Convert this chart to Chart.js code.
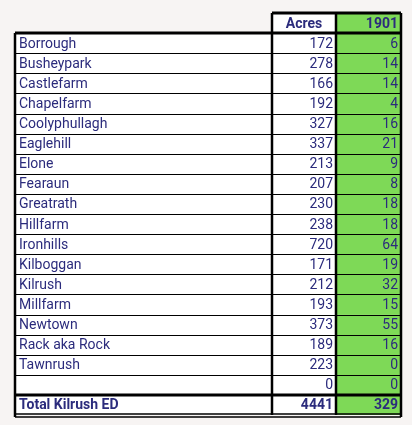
<!DOCTYPE html>
<html><head><meta charset="utf-8">
<script src="https://cdn.jsdelivr.net/npm/chart.js@4"></script>
<style>html,body{margin:0;padding:0;background:#f7f4f3;}canvas{display:block}</style>
</head><body>
<canvas id="c" width="412" height="425"></canvas>
<script>
const townlands = ["Borrough","Busheypark","Castlefarm","Chapelfarm","Coolyphullagh","Eaglehill","Elone","Fearaun","Greatrath","Hillfarm","Ironhills","Kilboggan","Kilrush","Millfarm","Newtown","Rack aka Rock","Tawnrush",""];
const acres = [172,278,166,192,327,337,213,207,230,238,720,171,212,193,373,189,223,0];
const y1901 = [6,14,14,4,16,21,9,8,18,18,64,19,32,15,55,16,0,0];
const headers = ["", "Acres", "1901"];
const totalLabel = "Total Kilrush ED";
const totalAcres = 4441;
const total1901 = 329;

const rows = ["__hdr", ...townlands.map((t,i)=>"r"+i), "__tot"];
const W = [257, 64, 65]; // column widths
const c0 = 0, c1 = W[0], c2 = W[0]+W[1], c3 = W[0]+W[1]+W[2];
const navy = "#2b2b7c", green = "#7ed957";
const FONT = "'Liberation Sans Narrow','Roboto','Liberation Sans',sans-serif";

const tablePlugin = {
  id:'tbl',
  afterDatasetsDraw(chart){
    const ctx = chart.ctx, xs = chart.scales.x, ys = chart.scales.y;
    const X = v=>xs.getPixelForValue(v);
    const n = rows.length;
    const top = i => { const p = ys.getPixelForValue(i), h = (ys.getPixelForValue(1)-ys.getPixelForValue(0)); return p - h/2; };
    const bot = i => top(i+1);
    ctx.save();
    ctx.strokeStyle = "#000";
    const line=(x1,y1,x2,y2,w)=>{ctx.lineWidth=w;ctx.beginPath();ctx.moveTo(x1,y1);ctx.lineTo(x2,y2);ctx.stroke();};
    for(let i=1;i<n-1;i++) line(X(c0),Math.round(bot(i))+0.5,X(c3),Math.round(bot(i))+0.5,1);
    line(X(c1),top(0),X(c3),top(0),3);
    line(X(c0),bot(0),X(c3),bot(0),3);
    line(X(c1),top(0),X(c1),bot(n-1),2.5);
    line(X(c2),top(0),X(c2),bot(n-1),2.5);
    line(X(c3),top(0),X(c3),bot(n-1)+2,2.5);
    line(X(c0),bot(0),X(c0),bot(n-1)+2,2.5);
    line(X(c0),top(n-1),X(c3),top(n-1),3);
    line(X(c0),bot(n-1)-1,X(c3),bot(n-1)-1,1.5);
    line(X(c0),bot(n-1)+2,X(c3),bot(n-1)+2,1.5);
    ctx.fillStyle = navy; ctx.textBaseline="middle";
    const mid = i => (top(i)+bot(i))/2 + 1;
    ctx.font = "bold 14px "+FONT;
    ctx.textAlign="center"; ctx.fillText(headers[1], (X(c1)+X(c2))/2, mid(0));
    ctx.textAlign="right"; ctx.fillText(headers[2], X(c3)-3, mid(0));
    ctx.font = "14px "+FONT;
    townlands.forEach((t,k)=>{
      const i=k+1;
      ctx.textAlign="left"; ctx.fillText(t, X(c0)+4, mid(i));
      ctx.textAlign="right"; ctx.fillText(String(acres[k]), X(c2)-3, mid(i));
      ctx.fillText(String(y1901[k]), X(c3)-3, mid(i));
    });
    ctx.font = "bold 14px "+FONT;
    const t=n-1;
    ctx.textAlign="left"; ctx.fillText(totalLabel, X(c0)+4, mid(t));
    ctx.textAlign="right"; ctx.fillText(String(totalAcres), X(c2)-3, mid(t));
    ctx.fillText(String(total1901), X(c3)-3, mid(t));
    ctx.restore();
  }
};

new Chart(document.getElementById('c'), {
  type:'bar',
  data:{ labels: rows, datasets:[
    {data: rows.map((r,i)=> i===0?null:[c0,c1]), backgroundColor:"#ffffff"},
    {data: rows.map(()=>[c1,c2]), backgroundColor:"#ffffff"},
    {data: rows.map(()=>[c2,c3]), backgroundColor:green}
  ]},
  options:{
    indexAxis:'y', responsive:false, animation:false, devicePixelRatio:1,
    layout:{padding:{left:15,right:11,top:13,bottom:10}},
    datasets:{bar:{barPercentage:1,categoryPercentage:1,grouped:false,borderWidth:0}},
    scales:{
      x:{min:0,max:c3,display:false},
      y:{display:false}
    },
    plugins:{legend:{display:false},tooltip:{enabled:false}}
  },
  plugins:[tablePlugin]
});
</script>
</body></html>
